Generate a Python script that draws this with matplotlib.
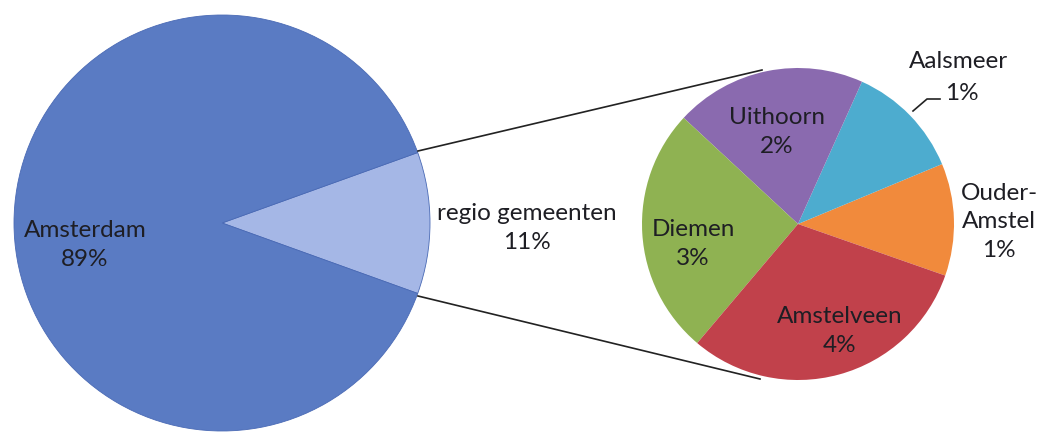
import matplotlib.pyplot as plt

# main pie: Amsterdam vs. the surrounding municipalities
main_labels = ['regio gemeenten', 'Amsterdam']
main_values = [11, 89]
main_pct = ['11%', '89%']
main_colors = ['#a5b7e6', '#5a7bc3']

# sub pie: breakdown of "regio gemeenten" (counter-clockwise from the right)
sub_labels = ['Ouder-\nAmstel', 'Aalsmeer', 'Uithoorn', 'Diemen', 'Amstelveen']
sub_values = [1.28, 1.32, 2.18, 2.83, 3.39]
sub_pct = ['1%', '1%', '2%', '3%', '4%']
sub_colors = ['#f18a3c', '#4daccf', '#8a6aaf', '#8fb252', '#c1414b']

plt.rcParams['font.family'] = ['Lato', 'DejaVu Sans']
txt_col = '#1e1e24'
fs = 17.5

fig = plt.figure(figsize=(10.44, 4.35), dpi=100)
ax = fig.add_axes([0, 0, 1, 1])

# pixel-like coordinates, y pointing up
big_c, big_r = (222, 211), 208
small_c, small_r = (798, 210), 156

half = main_values[0] / sum(main_values) * 360 / 2
ax.pie(main_values, colors=main_colors, center=big_c, radius=big_r,
       startangle=-half, counterclock=True,
       wedgeprops=dict(linewidth=0.6, edgecolor='#4a6ab5'))
ax.pie(sub_values, colors=sub_colors, center=small_c, radius=small_r,
       startangle=-19.3, counterclock=True,
       wedgeprops=dict(linewidth=0))

# connector lines
ax.plot([418, 762], [435 - 152, 435 - 71], color='#222222', lw=1.2)
ax.plot([418, 760], [435 - 297, 435 - 380], color='#222222', lw=1.2)
# leader line for Aalsmeer
ax.plot([913, 927, 940], [435 - 112, 435 - 100, 435 - 100], color='#222222', lw=1.2)

def lbl(x, y, s):
    ax.text(x, 435 - y, s, ha='center', va='center', fontsize=fs,
            color=txt_col, linespacing=1.45)

lbl(85, 245, 'Amsterdam\n' + main_pct[1])
lbl(527, 228, 'regio gemeenten\n' + main_pct[0])
lbl(777, 132, 'Uithoorn\n' + sub_pct[2])
lbl(693, 244, 'Diemen\n' + sub_pct[3])
lbl(840, 331, 'Amstelveen\n' + sub_pct[4])
lbl(958, 62, 'Aalsmeer')
lbl(962, 94, sub_pct[1])
lbl(999, 222, 'Ouder-\nAmstel\n' + sub_pct[0])

ax.set_xlim(0, 1044)
ax.set_ylim(0, 435)
ax.set_aspect('auto')
ax.axis('off')
fig.savefig('out.png', dpi=100)
